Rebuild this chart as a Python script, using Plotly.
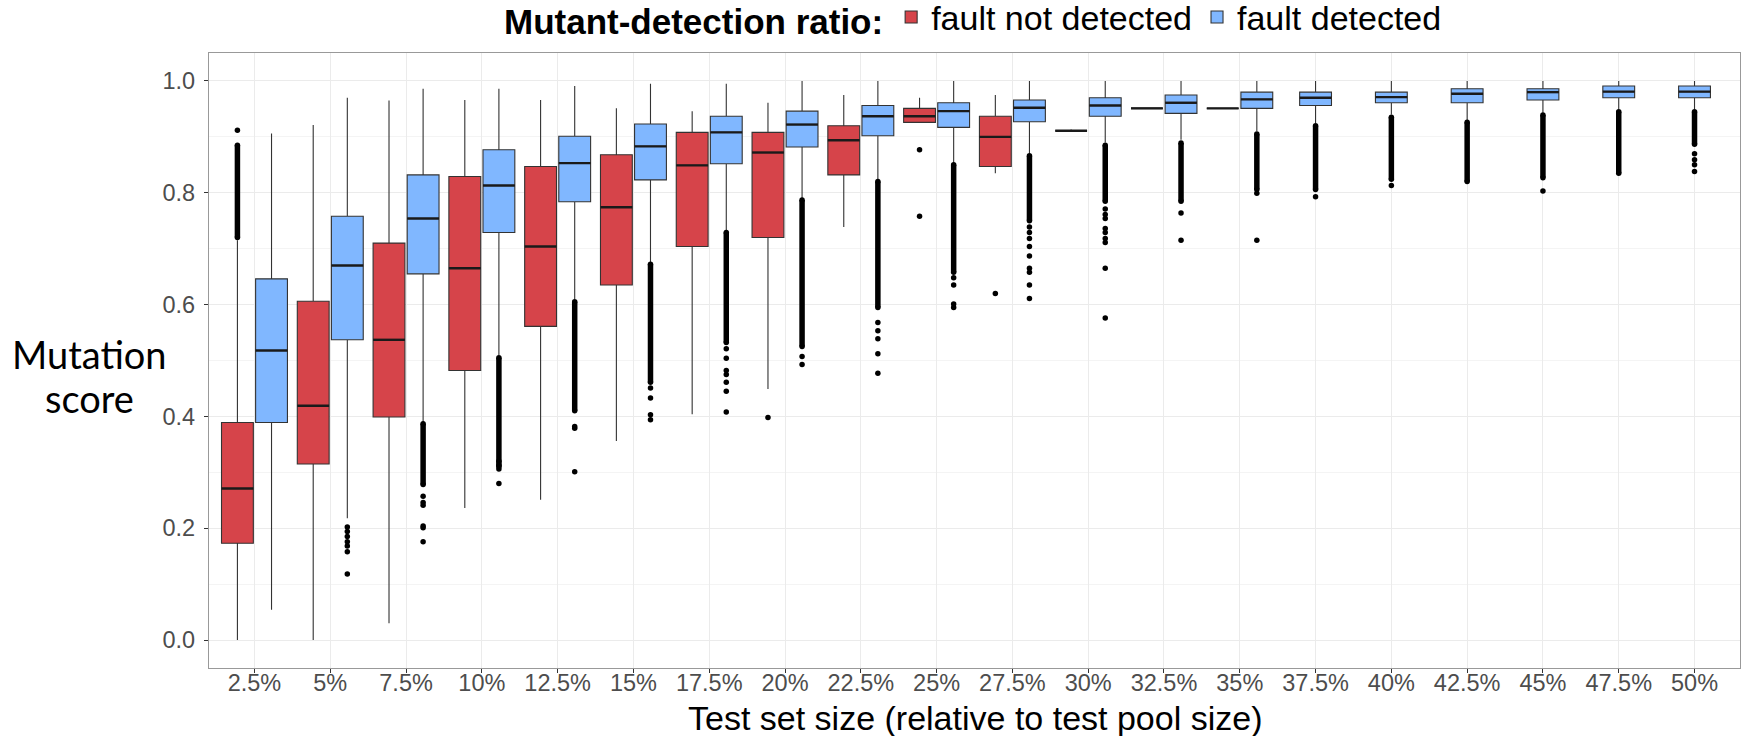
import plotly.graph_objects as go

categories = ["2.5%", "5%", "7.5%", "10%", "12.5%", "15%", "17.5%", "20%", "22.5%", "25%",
              "27.5%", "30%", "32.5%", "35%", "37.5%", "40%", "42.5%", "45%", "47.5%", "50%"]

# fault not detected (red) - present for the first 14 categories
red_q1     = [0.173, 0.315, 0.399, 0.482, 0.561, 0.635, 0.704, 0.720, 0.832, 0.926, 0.847, 0.911, 0.951, 0.951]
red_median = [0.271, 0.419, 0.537, 0.665, 0.704, 0.774, 0.849, 0.872, 0.894, 0.937, 0.900, 0.911, 0.951, 0.951]
red_q3     = [0.389, 0.606, 0.710, 0.829, 0.847, 0.868, 0.908, 0.908, 0.920, 0.951, 0.937, 0.911, 0.951, 0.951]
red_low    = [0.000, 0.000, 0.030, 0.236, 0.251, 0.356, 0.404, 0.449, 0.739, 0.926, 0.835, 0.909, 0.951, 0.951]
red_high   = [0.715, 0.921, 0.965, 0.966, 0.966, 0.951, 0.946, 0.961, 0.975, 0.970, 0.975, 0.913, 0.951, 0.951]
red_out_bands = [[(0.720, 0.885)], [], [], [], [], [], [], [], [], [], [], [], [], []]
red_out_points = [[0.912], [], [], [], [], [], [], [0.398], [], [0.877, 0.758], [0.620], [], [], []]

# fault detected (blue)
blue_q1     = [0.389, 0.537, 0.655, 0.729, 0.784, 0.823, 0.852, 0.882, 0.902, 0.917,
               0.927, 0.937, 0.942, 0.951, 0.956, 0.961, 0.961, 0.966, 0.970, 0.970]
blue_median = [0.518, 0.670, 0.754, 0.813, 0.853, 0.883, 0.908, 0.922, 0.937, 0.946,
               0.952, 0.956, 0.961, 0.967, 0.970, 0.971, 0.977, 0.980, 0.981, 0.981]
blue_q3     = [0.646, 0.758, 0.832, 0.877, 0.901, 0.923, 0.937, 0.946, 0.956, 0.961,
               0.966, 0.970, 0.975, 0.980, 0.980, 0.980, 0.986, 0.986, 0.991, 0.991]
blue_low    = [0.054, 0.218, 0.390, 0.510, 0.610, 0.675, 0.730, 0.790, 0.823, 0.853,
               0.870, 0.890, 0.895, 0.910, 0.925, 0.940, 0.930, 0.943, 0.950, 0.950]
blue_high   = [0.906, 0.970, 0.986, 0.986, 0.991, 0.995, 0.995, 1.000, 1.000, 1.000,
               1.000, 1.000, 1.000, 1.000, 1.000, 1.000, 1.000, 1.000, 1.000, 1.000]
blue_out_bands = [[], [], [(0.278, 0.387)], [(0.310, 0.505)], [(0.410, 0.605)], [(0.461, 0.672)],
                  [(0.532, 0.729)], [(0.525, 0.787)], [(0.595, 0.820)], [(0.658, 0.850)],
                  [(0.750, 0.866)], [(0.785, 0.885)], [(0.785, 0.889)], [(0.806, 0.905)],
                  [(0.806, 0.920)], [(0.824, 0.935)], [(0.820, 0.926)], [(0.827, 0.939)],
                  [(0.835, 0.945)], [(0.887, 0.945)]]
blue_out_points = [[], [0.202, 0.194, 0.185, 0.176, 0.168, 0.158, 0.118],
                   [0.257, 0.246, 0.241, 0.204, 0.201, 0.176],
                   [0.320, 0.313, 0.306, 0.280],
                   [0.382, 0.379, 0.301],
                   [0.451, 0.433, 0.403, 0.394],
                   [0.521, 0.504, 0.482, 0.475, 0.461, 0.445, 0.408],
                   [0.507, 0.493],
                   [0.568, 0.553, 0.539, 0.512, 0.477],
                   [0.648, 0.635, 0.601, 0.595],
                   [0.739, 0.729, 0.718, 0.704, 0.687, 0.665, 0.658, 0.635, 0.611],
                   [0.771, 0.761, 0.754, 0.736, 0.729, 0.718, 0.711, 0.665, 0.576],
                   [0.764, 0.715],
                   [0.799, 0.715],
                   [0.793],
                   [0.813],
                   [],
                   [0.803],
                   [],
                   [0.870, 0.859, 0.850, 0.838]]

RED = "#D6444A"
BLUE = "#80B7FF"
OUTLINE = "#333333"
BOX_W = 0.42
DODGE = 0.225
FONT = "Liberation Sans, Arial, sans-serif"

n_red = len(red_q1)
idx = list(range(1, len(categories) + 1))
red_x = [idx[i] - DODGE for i in range(n_red)]
blue_x = [idx[i] + DODGE if i < n_red else idx[i] for i in range(len(categories))]

fig = go.Figure()

def add_series(name, xs, q1, med, q3, lo, hi, color, bands, points):
    fig.add_trace(go.Box(
        name=name, x=xs, q1=q1, median=med, q3=q3, lowerfence=lo, upperfence=hi,
        width=BOX_W, fillcolor=color, line=dict(color=OUTLINE, width=1.1),
        whiskerwidth=0, boxpoints=False, showlegend=True, hoverinfo="skip"))
    # thicker median lines
    mx, my = [], []
    for x, m in zip(xs, med):
        mx += [x - BOX_W / 2, x + BOX_W / 2, None]
        my += [m, m, None]
    fig.add_trace(go.Scatter(x=mx, y=my, mode="lines", line=dict(color="#1a1a1a", width=2.4),
                             showlegend=False, hoverinfo="skip"))
    # dense outlier bands
    bx, by = [], []
    for x, bl in zip(xs, bands):
        for lo_, hi_ in bl:
            bx += [x, x, None]
            by += [lo_, hi_, None]
    if bx:
        fig.add_trace(go.Scatter(x=bx, y=by, mode="lines+markers",
                                 line=dict(color="black", width=5.5),
                                 marker=dict(color="black", size=5.5),
                                 showlegend=False, hoverinfo="skip"))
    px, py = [], []
    for x, pl in zip(xs, points):
        for v in pl:
            px.append(x)
            py.append(v)
    if px:
        fig.add_trace(go.Scatter(x=px, y=py, mode="markers",
                                 marker=dict(color="black", size=5.5),
                                 showlegend=False, hoverinfo="skip"))

add_series("fault not detected", red_x, red_q1, red_median, red_q3, red_low, red_high, RED,
           red_out_bands, red_out_points)
add_series("fault detected", blue_x, blue_q1, blue_median, blue_q3, blue_low, blue_high, BLUE,
           blue_out_bands, blue_out_points)

fig.update_layout(
    width=1746, height=736,
    margin=dict(l=209, r=6, t=53, b=68, autoexpand=False),
    paper_bgcolor="white", plot_bgcolor="white",
    font=dict(family=FONT, color="black"),
    boxmode="overlay",
    legend=dict(orientation="h", x=0.5, xanchor="center", y=1.058, yanchor="middle",
                title=dict(text="<b>Mutant-detection ratio:</b>", font=dict(size=35, family=FONT)),
                font=dict(size=34, family=FONT), itemclick=False, traceorder="normal"),
    xaxis=dict(range=[0.4, 20.6], tickmode="array", tickvals=idx, ticktext=categories,
               showgrid=True, gridcolor="#EBEBEB", gridwidth=1, zeroline=False,
               ticks="outside", ticklen=4, tickcolor=OUTLINE, ticklabelstandoff=-10,
               tickfont=dict(size=23.5, color="#4D4D4D", family=FONT),
               showline=True, linecolor="#999999", mirror=True, linewidth=1.2),
    yaxis=dict(range=[-0.05, 1.05], tickmode="array", tickvals=[0, 0.2, 0.4, 0.6, 0.8, 1.0],
               ticktext=["0.0", "0.2", "0.4", "0.6", "0.8", "1.0"],
               showgrid=True, gridcolor="#EBEBEB", gridwidth=1, zeroline=False,
               minor=dict(tickmode="array", tickvals=[0.1, 0.3, 0.5, 0.7, 0.9],
                          showgrid=True, gridcolor="#F4F4F4", gridwidth=0.8, ticks=""),
               ticks="outside", ticklen=4, tickcolor=OUTLINE, ticklabelstandoff=4,
               tickfont=dict(size=23.5, color="#4D4D4D", family=FONT),
               showline=True, linecolor="#999999", mirror=True, linewidth=1.2),
)

PANEL_TOP, PANEL_H, PANEL_L, PANEL_W = 53, 615, 209, 1531
def py_(px):
    return (PANEL_TOP + PANEL_H - px) / PANEL_H

fig.add_annotation(text="Mutation", xref="paper", yref="paper",
                   x=(89 - PANEL_L) / PANEL_W, y=py_(354), xanchor="center", yanchor="middle",
                   showarrow=False, font=dict(family="Lato, Noto Sans, sans-serif", size=38, color="black"))
fig.add_annotation(text="score", xref="paper", yref="paper",
                   x=(89 - PANEL_L) / PANEL_W, y=py_(398), xanchor="center", yanchor="middle",
                   showarrow=False, font=dict(family="Lato, Noto Sans, sans-serif", size=38, color="black"))
fig.add_annotation(text="Test set size (relative to test pool size)", xref="paper", yref="paper",
                   x=0.5, y=py_(718), xanchor="center", yanchor="middle", showarrow=False,
                   font=dict(family=FONT, size=34, color="black"))

fig.write_html("out.html")
